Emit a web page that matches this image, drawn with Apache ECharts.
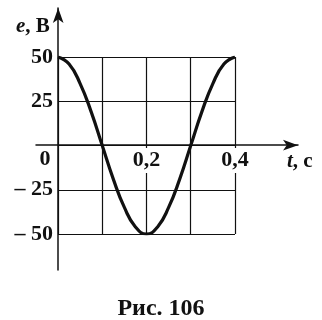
<!DOCTYPE html>
<html>
<head>
<meta charset="utf-8">
<script src="https://cdn.jsdelivr.net/npm/echarts@6/dist/echarts.min.js"></script>
<style>
  html, body { margin: 0; padding: 0; background: #fff; }
  #chart { width: 322px; height: 320px; }
</style>
</head>
<body>
<div id="chart"></div>
<script>
var chartDom = document.getElementById('chart');
var myChart = echarts.init(chartDom);

// values
var times = [0, 0.025, 0.05, 0.075, 0.1, 0.125, 0.15, 0.175, 0.2, 0.225, 0.25, 0.275, 0.3, 0.325, 0.35, 0.375, 0.4];
var emf = [50, 46, 35, 19, 0, -19, -35, -46, -50, -46, -35, -19, 0, 19, 35, 46, 50];
var xTickLabels = { '0': '0', '0.2': '0,2', '0.4': '0,4' };
var yTickLabels = { '50': '50', '25': '25', '-25': '– 25', '-50': '– 50' };

var font = 'Liberation Serif';
var ink = '#111';
var fs = 22;

var points = [];
for (var i = 0; i < times.length; i++) {
  points.push([times[i], emf[i]]);
}

var option = {
  backgroundColor: '#fff',
  animation: false,
  title: [
    {
      text: '{i|e}, B',
      left: 11,
      top: 11,
      textStyle: {
        fontFamily: font, fontSize: 21, fontWeight: 'bold', color: ink,
        rich: { i: { fontFamily: font, fontSize: 21, fontWeight: 'bold', fontStyle: 'italic', color: ink } }
      }
    },
    {
      text: '{i|t}, c',
      left: 282,
      top: 146,
      textStyle: {
        fontFamily: font, fontSize: 21, fontWeight: 'bold', color: ink,
        rich: { i: { fontFamily: font, fontSize: 21, fontWeight: 'bold', fontStyle: 'italic', color: ink } }
      }
    },
    {
      text: 'Рис. 106',
      left: 'center',
      top: 292,
      textStyle: { fontFamily: font, fontSize: 24, fontWeight: 'bold', color: ink }
    }
  ],
  grid: [
    { left: 58, right: 87, top: 57, bottom: 86 },
    { left: 36, right: 24, top: 8, bottom: 50 }
  ],
  xAxis: [
    {
      gridIndex: 0,
      type: 'value',
      position: 'bottom',
      offset: -89,
      min: 0,
      max: 0.4,
      interval: 0.1,
      z: 5,
      axisLine: { show: false, onZero: false },
      axisTick: { show: false },
      splitLine: { show: true, lineStyle: { color: ink, width: 1.2 } },
      axisLabel: {
        margin: 3,
        fontFamily: font,
        fontSize: fs,
        fontWeight: 'bold',
        color: ink,
        formatter: function (v) {
          var key = String(Math.round(v * 10) / 10);
          if (key === '0') return '{z|0}';
          if (!xTickLabels[key]) return '';
          return '{l|' + xTickLabels[key] + '}';
        },
        rich: {
          z: { fontFamily: font, fontSize: fs, fontWeight: 'bold', color: ink, padding: [0, 26, 0, 0] },
          l: { fontFamily: font, fontSize: fs, fontWeight: 'bold', color: ink, backgroundColor: '#fff', padding: [1, 1, 2, 1] }
        }
      }
    },
    {
      gridIndex: 1,
      type: 'value',
      min: -0.05,
      max: 0.54,
      axisLine: {
        show: true,
        onZero: true,
        symbol: ['none', 'arrow'],
        symbolSize: [8, 15],
        lineStyle: { color: ink, width: 1.5 }
      },
      axisTick: { show: false },
      axisLabel: { show: false },
      splitLine: { show: false }
    }
  ],
  yAxis: [
    {
      gridIndex: 0,
      type: 'value',
      min: -50,
      max: 50,
      interval: 25,
      axisLine: { show: false },
      axisTick: { show: false },
      splitLine: { show: true, lineStyle: { color: ink, width: 1.2 } },
      axisLabel: {
        margin: 5,
        fontFamily: font,
        fontSize: fs,
        fontWeight: 'bold',
        color: ink,
        formatter: function (v) {
          return yTickLabels[String(v)] || '';
        }
      }
    },
    {
      gridIndex: 1,
      type: 'value',
      min: -70.5,
      max: 77.5,
      axisLine: {
        show: true,
        onZero: true,
        symbol: ['none', 'arrow'],
        symbolSize: [8, 15],
        lineStyle: { color: ink, width: 1.5 }
      },
      axisTick: { show: false },
      axisLabel: { show: false },
      splitLine: { show: false }
    }
  ],
  series: [
    {
      type: 'line',
      xAxisIndex: 0,
      yAxisIndex: 0,
      data: points,
      smooth: true,
      showSymbol: false,
      lineStyle: { color: ink, width: 3.2 }
    }
  ]
};

myChart.setOption(option);
window.addEventListener('resize', function () { myChart.resize(); });
</script>
</body>
</html>
